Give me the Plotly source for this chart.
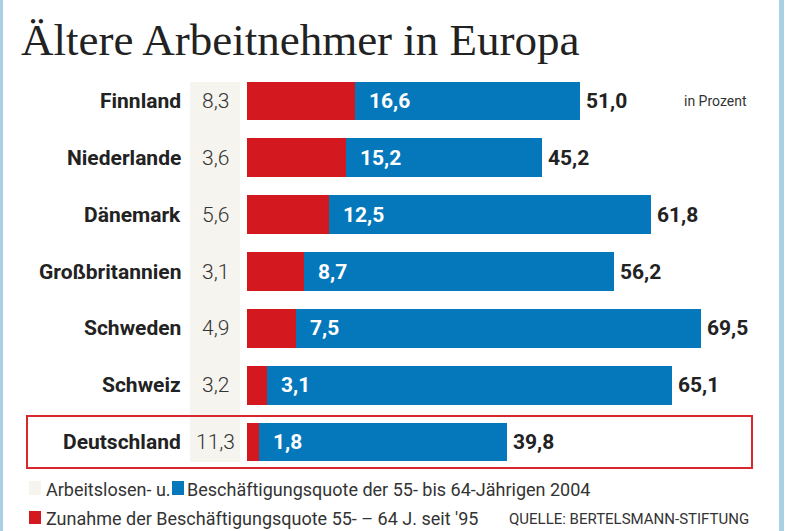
import plotly.graph_objects as go

countries = ["Finnland", "Niederlande", "Dänemark", "Großbritannien", "Schweden", "Schweiz", "Deutschland"]
unemployment = [8.3, 3.6, 5.6, 3.1, 4.9, 3.2, 11.3]
increase = [16.6, 15.2, 12.5, 8.7, 7.5, 3.1, 1.8]
employment = [51.0, 45.2, 61.8, 56.2, 69.5, 65.1, 39.8]

title = "Ältere Arbeitnehmer in Europa"
legend_unemp = "Arbeitslosen- u."
legend_emp = "Beschäftigungsquote der 55- bis 64-Jährigen 2004"
legend_inc = "Zunahme der Beschäftigungsquote 55- – 64 J. seit '95"
source = "QUELLE: BERTELSMANN-STIFTUNG"
unit = "in Prozent"

RED = "#d3191f"
BLUE = "#0578bc"
BEIGE = "#f6f4ef"
FRAME = "#a9d0e5"
TXT = "#222222"
SANS = "Roboto, sans-serif"

W, H = 787, 531


def px(x):
    return x / W


def py(y):
    return 1 - y / H


def fmt(v):
    return f"{v:.1f}".replace(".", ",")


fig = go.Figure()
fig.add_bar(y=countries, x=increase, orientation="h",
            marker=dict(color=RED, line_width=0), hoverinfo="skip")
fig.add_bar(y=countries, x=[e - i for e, i in zip(employment, increase)], orientation="h",
            marker=dict(color=BLUE, line_width=0), hoverinfo="skip")

scale = (701 - 247) / 69.5
fig.update_layout(
    width=W, height=H, margin=dict(l=0, r=0, t=0, b=0),
    paper_bgcolor="white", plot_bgcolor="rgba(0,0,0,0)",
    barmode="stack", bargap=0.32, showlegend=False,
    xaxis=dict(domain=[px(247), 1], range=[0, (W - 247) / scale], visible=False, fixedrange=True),
    yaxis=dict(domain=[py(470.5), py(72.5)], range=[6.5, -0.5], visible=False,
               categoryorder="array", categoryarray=countries, fixedrange=True),
)

shapes = [
    dict(type="rect", xref="paper", yref="paper", x0=px(190), x1=px(240), y0=py(462), y1=py(82),
         fillcolor=BEIGE, line_width=0, layer="below"),
    dict(type="rect", xref="paper", yref="paper", x0=px(27), x1=px(752), y0=py(468), y1=py(416),
         line=dict(color="#d9272e", width=2), fillcolor="rgba(0,0,0,0)"),
    dict(type="rect", xref="paper", yref="paper", x0=0, x1=px(3), y0=0, y1=1,
         fillcolor=FRAME, line_width=0),
    dict(type="rect", xref="paper", yref="paper", x0=px(779), x1=px(784), y0=0, y1=1,
         fillcolor=FRAME, line_width=0),
    dict(type="rect", xref="paper", yref="paper", x0=px(29), x1=px(41), y0=py(495), y1=py(481),
         fillcolor=BEIGE, line_width=0),
    dict(type="rect", xref="paper", yref="paper", x0=px(172), x1=px(184), y0=py(495), y1=py(481),
         fillcolor=BLUE, line_width=0),
    dict(type="rect", xref="paper", yref="paper", x0=px(29), x1=px(41), y0=py(524), y1=py(511),
         fillcolor=RED, line_width=0),
]

ann = [
    dict(text=title, xref="paper", yref="paper", x=px(19), y=py(40), xanchor="left", yanchor="middle",
         showarrow=False, font=dict(family="Liberation Serif, serif", size=45, color=TXT)),
    dict(text=unit, xref="paper", yref="paper", x=px(749), y=py(101), xanchor="right", yanchor="middle",
         showarrow=False, font=dict(family=SANS, size=14, color="#333333")),
    dict(text=legend_unemp, xref="paper", yref="paper", x=px(44), y=py(489), xanchor="left", yanchor="middle",
         showarrow=False, font=dict(family=SANS, size=18, color="#333333")),
    dict(text=legend_emp, xref="paper", yref="paper", x=px(185), y=py(489), xanchor="left", yanchor="middle",
         showarrow=False, font=dict(family=SANS, size=18, color="#333333")),
    dict(text=legend_inc, xref="paper", yref="paper", x=px(44), y=py(518), xanchor="left", yanchor="middle",
         showarrow=False, font=dict(family=SANS, size=18, color="#333333")),
    dict(text=source, xref="paper", yref="paper", x=px(751), y=py(519), xanchor="right", yanchor="middle",
         showarrow=False, font=dict(family=SANS, size=15, color="#333333")),
]

for c, u, i, e in zip(countries, unemployment, increase, employment):
    ann.append(dict(text=f"<b>{c}</b>", xref="paper", yref="y", x=px(183), y=c, xanchor="right",
                    yanchor="middle", showarrow=False, font=dict(family=SANS, size=21, color=TXT)))
    ann.append(dict(text=fmt(u), xref="paper", yref="y", x=px(215), y=c, xanchor="center",
                    yanchor="middle", showarrow=False,
                    font=dict(family=SANS, size=21, color="#333333", weight=300)))
    ann.append(dict(text=f"<b>{fmt(i)}</b>", xref="x", yref="y", x=i, y=c, xanchor="left", xshift=12,
                    yanchor="middle", showarrow=False, font=dict(family=SANS, size=21, color="white")))
    ann.append(dict(text=f"<b>{fmt(e)}</b>", xref="x", yref="y", x=e, y=c, xanchor="left", xshift=4,
                    yanchor="middle", showarrow=False, font=dict(family=SANS, size=21, color=TXT)))

fig.update_layout(shapes=shapes, annotations=ann)
fig.write_html("out.html", config={"displayModeBar": False},
               post_script="document.body.style.margin='0';document.body.style.padding='0';")
